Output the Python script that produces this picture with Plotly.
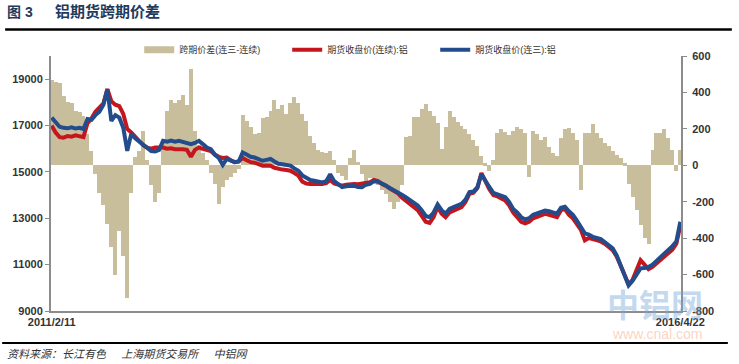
import pandas as pd
import plotly.graph_objects as go

start_date = "2011-02-11"
end_date = "2016-04-22"

# 期货收盘价(连三):铝  (left axis, yuan/t), sampled evenly from start to end
price_lian3 = [
    17340, 17150, 16950, 16900, 16880, 16920, 16870, 16900, 16850, 17280,
    17250, 17450, 17600, 17900, 18570, 17200, 17450, 17340, 16900, 15910,
    16640, 16450, 16300, 16200, 16050, 15900, 15880, 15950, 16340, 16300,
    16350, 16300, 16340, 16300, 16250, 16200, 16250, 16340, 16200, 16050,
    15980, 15750, 15600, 15300, 15560, 15500, 15420, 15450, 15840, 15750,
    15650, 15620, 15550, 15480, 15520, 15560, 15450, 15350, 15330, 15280,
    15270, 15150, 15050, 14850, 14750, 14650, 14620, 14580, 14550, 14600,
    14900, 14600, 14450, 14340, 14380, 14410, 14400, 14350, 14340, 14450,
    14480, 14600, 14580, 14500, 14410, 14300, 14220, 14150, 14020, 13910,
    13800, 13680, 13550, 13350, 13100, 13050, 13250, 13600, 13350, 13200,
    13400, 13480, 13550, 13620, 13800, 14130, 14150, 14350, 14900, 14600,
    14350, 14100, 14050, 13980, 13910, 13700, 13400, 13250, 13050, 12950,
    13000, 13150, 13200, 13250, 13330, 13300, 13250, 13200, 13450, 13500,
    13300, 13150, 12900, 12650, 12350, 12300, 12200, 12150, 12100, 11970,
    11850, 11700, 11400, 10950, 10500, 10100, 10300, 10600, 10840, 10850,
    10900, 11000, 11150, 11300, 11480, 11650, 11800, 12000, 12850,
]

# 期货收盘价(连续):铝  (left axis)
price_lianxu = [
    17000, 16700, 16500, 16480, 16550, 16520, 16580, 16550, 16500, 17100,
    17300, 17600, 17750, 17950, 18570, 18050, 17900, 17840, 17500, 16850,
    16700, 16500, 16300, 16150, 16050, 16000, 16050, 16050, 16050, 16000,
    16020, 15980, 16000, 15980, 15950, 15650, 15950, 16050, 16000, 15950,
    15900, 15750, 15650, 15600, 15620, 15500, 15420, 15450, 15600, 15500,
    15420, 15400, 15330, 15270, 15280, 15270, 15180, 15130, 15100, 15080,
    15050, 14950, 14840, 14580, 14500, 14480, 14470, 14480, 14480, 14520,
    14650, 14500, 14450, 14410, 14450, 14480, 14480, 14470, 14500, 14520,
    14550, 14650, 14600, 14480, 14410, 14280, 14200, 14080, 13900, 13770,
    13650, 13500, 13350, 13100, 12850, 12800, 13050, 13500, 13200, 13050,
    13250, 13330, 13400, 13480, 13700, 14050, 14100, 14300, 14950, 14550,
    14250, 14000, 13950, 13850, 13770, 13550, 13250, 13050, 12850, 12780,
    12850, 13000, 13050, 13100, 13190, 13150, 13100, 13050, 13350, 13400,
    13150, 13000, 12750, 12500, 12050, 12150, 12100, 12050, 12000, 11900,
    11780, 11620, 11350, 10950, 10500, 10150, 10350, 10800, 11190, 11000,
    10800, 10900, 11050, 11200, 11330, 11500, 11650, 11900, 12700,
]

# 跨期价差(连三-连续)  (right axis)
spread = [
    470, 460, 450, 380, 350, 340, 300, 290, 270, 170,
    80, -50, -150, -220, -320, -450, -600, -360, -500, -730,
    -150, 46, 80, 190, 30, -110, -200, -150, 120, 300,
    356, 340, 360, 384, 330, 530, 190, 110, 70, 30,
    -40, -100, -210, -120, -80, -65, -40, -20, 274, 245,
    210, 170, 180, 260, 265, 300, 356, 310, 330, 280,
    340, 374, 340, 280, 245, 160, 120, 85, 75, 65,
    80, 30, -45, -60, -80, 40, 82, 20, -50, -100,
    -70, -95, -110, -135, -160, -200, -240, -200, -110, 155,
    160, 265, 265, 310, 338, 300, 270, 230, 90, 210,
    300, 265, 235, 215, 200, 170, 137, 105, 50, 10,
    -30, 30, 180, 200, 185, 165, 190, 210, 200, 180,
    -64, 190, 170, 140, 155, 100, 65, 50, 150, 200,
    205, 180, 140, -137, 175, 175, 228, 175, 150, 120,
    105, 80, 55, 40, 10, -100, -174, -245, -330, -400,
    -430, 82, 175, 180, 200, 150, 82, -30, 82,
]

left_ticks = [9000, 11000, 13000, 15000, 17000, 19000]
right_ticks = [-800, -600, -400, -200, 0, 200, 400, 600]
x_tick_labels = ["2011/2/11", "2016/4/22"]

names = ["跨期价差(连三-连续)", "期货收盘价(连续):铝", "期货收盘价(连三):铝"]

TAN = "#C8BE9C"
RED = "#C4161C"
BLUE = "#234C8C"
AXIS = "#8C8C8C"
TXT = "#333333"
FONT = "Liberation Sans, Noto Sans CJK SC, sans-serif"

d_spread = pd.date_range(start_date, end_date, periods=len(spread))
d_lian3 = pd.date_range(start_date, end_date, periods=len(price_lian3))
d_lianxu = pd.date_range(start_date, end_date, periods=len(price_lianxu))

fig = go.Figure()
fig.add_trace(go.Bar(x=d_spread, y=spread, marker=dict(color=TAN, line=dict(width=0)),
                     yaxis="y", showlegend=False, name=names[0]))
fig.add_trace(go.Scatter(x=[None], y=[None], mode="lines", line=dict(color=TAN, width=7),
                         name=names[0], yaxis="y"))
fig.add_trace(go.Scatter(x=d_lianxu, y=price_lianxu, mode="lines",
                         line=dict(color=RED, width=4), name=names[1], yaxis="y2"))
fig.add_trace(go.Scatter(x=d_lian3, y=price_lian3, mode="lines",
                         line=dict(color=BLUE, width=4), name=names[2], yaxis="y2"))

fig.update_layout(
    width=739, height=364,
    margin=dict(l=49, r=58, t=56, b=53),
    paper_bgcolor="white", plot_bgcolor="white",
    font=dict(family=FONT, color=TXT, size=10),
    bargap=0,
    xaxis=dict(
        range=[pd.Timestamp(start_date) - pd.Timedelta(days=2), pd.Timestamp(end_date) + pd.Timedelta(days=2)],
        tickvals=[pd.Timestamp(start_date), pd.Timestamp(end_date)],
        ticktext=["<b>%s</b>" % t for t in x_tick_labels],
        showline=True, linecolor=AXIS, linewidth=2, ticks="", showgrid=False,
        zeroline=False, tickfont=dict(size=11, color=TXT),
    ),
    yaxis=dict(
        side="right", range=[-800, 600], tickvals=right_ticks,
        ticktext=["<b>%d</b>" % v for v in right_ticks],
        showline=True, linecolor=AXIS, linewidth=2, ticks="outside", ticklen=4,
        tickcolor=AXIS, showgrid=False, zeroline=False, tickfont=dict(size=11, color=TXT),
        ticklabelstandoff=3,
    ),
    yaxis2=dict(
        side="left", overlaying="y", range=[9000, 20000], tickvals=left_ticks,
        ticktext=["<b>%d</b>" % v for v in left_ticks],
        showline=True, linecolor=AXIS, linewidth=2, ticks="outside", ticklen=4,
        tickcolor=AXIS, showgrid=False, zeroline=False, tickfont=dict(size=11, color=TXT),
    ),
    legend=dict(
        orientation="h", x=0.14, xanchor="left", y=1.025, yanchor="middle",
        font=dict(size=9, color=TXT), bgcolor="rgba(0,0,0,0)",
        entrywidth=103, entrywidthmode="pixels", itemwidth=30,
    ),
)

NB = "\u00a0"
# title, rules, source text
fig.add_annotation(xref="paper", yref="paper", x=(3-49)/632, y=1 + (56-12)/255,
                   xanchor="left", yanchor="middle", showarrow=False,
                   text="<b>图 3</b>", font=dict(size=14, color="#1F3B5C"))
fig.add_annotation(xref="paper", yref="paper", x=(51-49)/632, y=1 + (56-12)/255,
                   xanchor="left", yanchor="middle", showarrow=False,
                   text="<b>铝期货跨期价差</b>", font=dict(size=15, color="#1F3B5C"))
fig.add_shape(type="line", xref="paper", yref="paper",
              x0=(3-49)/632, x1=(732-49)/632, y0=1 + (56-29.5)/255, y1=1 + (56-29.5)/255,
              line=dict(color="black", width=2.5))
fig.add_shape(type="line", xref="paper", yref="paper",
              x0=(0-49)/632, x1=(728-49)/632, y0=-(343-311)/255, y1=-(343-311)/255,
              line=dict(color="black", width=2))
fig.add_annotation(xref="paper", yref="paper", x=(3-49)/632, y=-(354-311)/255,
                   xanchor="left", yanchor="middle", showarrow=False,
                   text="<i>资料来源：长江有色" + NB * 5 + "上海期货交易所" + NB * 5 + "中铝网</i>",
                   font=dict(size=11, color=TXT))
# watermark
fig.add_annotation(xref="paper", yref="paper", x=(655-49)/632, y=-(306-311)/255,
                   xanchor="center", yanchor="middle", showarrow=False,
                   text="<b>中铝网</b>", font=dict(size=32, color="rgba(120,170,220,0.45)"))
fig.add_annotation(xref="paper", yref="paper", x=(657-49)/632, y=-(334-311)/255,
                   xanchor="center", yanchor="middle", showarrow=False,
                   text="www.cnal.com", font=dict(size=14, color="rgba(245,170,130,0.5)"))

fig.write_html("out.html", config={"displayModeBar": False},
               post_script="document.body.style.margin='0';")
